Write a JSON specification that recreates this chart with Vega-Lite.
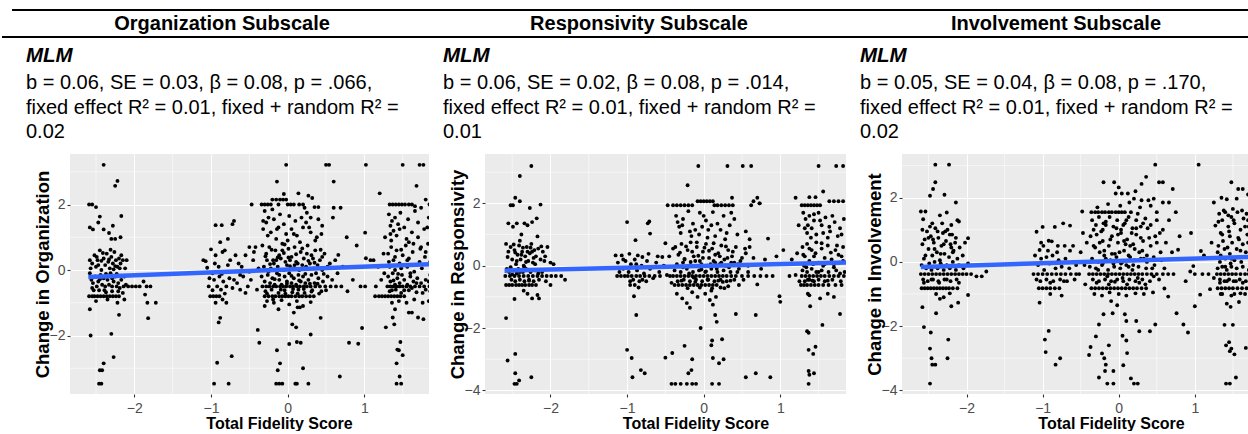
{
  "$schema": "https://vega.github.io/schema/vega-lite/v6.json",
  "padding": {"top": 9, "left": 0, "right": 0, "bottom": 0},
  "spacing": 0,
  "config": {
    "font": "Liberation Sans",
    "view": {"stroke": null},
    "axis": {"domain": false, "grid": true, "gridColor": "#FFFFFF", "gridWidth": 1.1, "tickColor": "#333333", "tickSize": 3, "tickWidth": 1.1, "labelColor": "#4D4D4D", "labelFontSize": 14, "labelPadding": 2, "titleFontWeight": "bold", "titleColor": "#000000", "labelFlush": false, "labelOverlap": false, "format": "d"},
    "axisX": {"titleFontSize": 16, "titlePadding": 0, "labelPadding": 4},
    "axisY": {"titleFontSize": 18.5, "titlePadding": -3.5}
  },
  "datasets": {
    "heads": [{"panel": "Organization Subscale"}, {"panel": "Responsivity Subscale"}, {"panel": "Involvement Subscale"}],
    "stats": [
      {"panel": "Organization Subscale", "line": 0, "txt": "MLM"},
      {"panel": "Organization Subscale", "line": 1, "txt": "b = 0.06, SE = 0.03, β = 0.08, p = .066,"},
      {"panel": "Organization Subscale", "line": 2, "txt": "fixed effect R² = 0.01, fixed + random R² ="},
      {"panel": "Organization Subscale", "line": 3, "txt": "0.02"},
      {"panel": "Responsivity Subscale", "line": 0, "txt": "MLM"},
      {"panel": "Responsivity Subscale", "line": 1, "txt": "b = 0.06, SE = 0.02, β = 0.08, p = .014,"},
      {"panel": "Responsivity Subscale", "line": 2, "txt": "fixed effect R² = 0.01, fixed + random R² ="},
      {"panel": "Responsivity Subscale", "line": 3, "txt": "0.01"},
      {"panel": "Involvement Subscale", "line": 0, "txt": "MLM"},
      {"panel": "Involvement Subscale", "line": 1, "txt": "b = 0.05, SE = 0.04, β = 0.08, p = .170,"},
      {"panel": "Involvement Subscale", "line": 2, "txt": "fixed effect R² = 0.01, fixed + random R² ="},
      {"panel": "Involvement Subscale", "line": 3, "txt": "0.02"}
    ],
    "minorx": [{"v": -2.5}, {"v": -1.5}, {"v": -0.5}, {"v": 0.5}, {"v": 1.5}],
    "minory": [{"v": 3}, {"v": 1}, {"v": -1}, {"v": -3}],
    "orgfit": [{"x": -2.6, "y": -0.21}, {"x": 2.6, "y": 0.24}],
    "respfit": [{"x": -2.6, "y": -0.16}, {"x": 2.6, "y": 0.15}],
    "invfit": [{"x": -2.6, "y": -0.16}, {"x": 2.6, "y": 0.22}],
    "org": [
{"x":-2.40,"y":3.21},{"x":-2.22,"y":2.72},{"x":-2.25,"y":2.57},{"x":-2.59,"y":2.0},{"x":-2.55,"y":2.0},{"x":-2.50,"y":1.92},{"x":-2.45,"y":1.63},{"x":-2.17,"y":1.65},{"x":-2.58,"y":1.3},{"x":-2.54,"y":1.24},{"x":-2.47,"y":1.45},{"x":-2.40,"y":1.24},{"x":-2.28,"y":1.35},{"x":-2.33,"y":1.13},{"x":-2.30,"y":0.95},{"x":-2.18,"y":1.0},{"x":-2.25,"y":0.95},
{"x":-2.58,"y":0.3},{"x":-2.55,"y":0.2},{"x":-2.52,"y":0.45},{"x":-2.50,"y":0.1},{"x":-2.48,"y":0.3},{"x":-2.45,"y":0.6},{"x":-2.43,"y":0.0},{"x":-2.40,"y":0.35},{"x":-2.38,"y":0.15},{"x":-2.36,"y":0.5},{"x":-2.34,"y":0.25},{"x":-2.32,"y":0.05},{"x":-2.30,"y":0.4},{"x":-2.28,"y":0.2},{"x":-2.26,"y":0.55},{"x":-2.24,"y":0.3},{"x":-2.22,"y":0.1},{"x":-2.20,"y":0.35},{"x":-2.18,"y":0.2},{"x":-2.15,"y":0.3},{"x":-2.12,"y":0.05},{"x":-2.10,"y":0.3},
{"x":-2.58,"y":-0.1},{"x":-2.56,"y":-0.3},{"x":-2.54,"y":-0.4},{"x":-2.51,"y":-0.2},{"x":-2.49,"y":-0.5},{"x":-2.47,"y":-0.35},{"x":-2.44,"y":-0.15},{"x":-2.42,"y":-0.45},{"x":-2.40,"y":-0.25},{"x":-2.38,"y":-0.5},{"x":-2.35,"y":-0.3},{"x":-2.33,"y":-0.45},{"x":-2.31,"y":-0.1},{"x":-2.29,"y":-0.5},{"x":-2.27,"y":-0.35},{"x":-2.25,"y":-0.2},{"x":-2.23,"y":-0.5},{"x":-2.21,"y":-0.4},{"x":-2.19,"y":-0.55},{"x":-2.17,"y":-0.3},{"x":-2.14,"y":-0.5},{"x":-2.11,"y":-0.45},{"x":-2.08,"y":-0.5},{"x":-2.03,"y":-0.5},{"x":-1.98,"y":-0.5},{"x":-1.93,"y":-0.5},{"x":-1.88,"y":-0.35},{"x":-1.84,"y":-0.5},{"x":-1.79,"y":-0.5},
{"x":-2.59,"y":-0.8},{"x":-2.55,"y":-0.8},{"x":-2.52,"y":-0.8},{"x":-2.48,"y":-0.8},{"x":-2.44,"y":-0.8},{"x":-2.40,"y":-0.8},{"x":-2.36,"y":-0.8},{"x":-2.32,"y":-0.8},{"x":-2.28,"y":-0.8},{"x":-2.24,"y":-0.8},{"x":-2.20,"y":-0.8},{"x":-2.46,"y":-0.62},{"x":-2.37,"y":-0.68},{"x":-2.29,"y":-0.65},{"x":-2.15,"y":-0.7},{"x":-2.50,"y":-0.95},{"x":-2.35,"y":-0.9},{"x":-2.22,"y":-1.0},{"x":-2.13,"y":-0.9},
{"x":-2.58,"y":-1.2},{"x":-2.57,"y":-2.0},{"x":-2.30,"y":-1.95},{"x":-2.27,"y":-2.66},{"x":-2.20,"y":-1.37},{"x":-2.40,"y":-2.85},{"x":-2.42,"y":-3.06},{"x":-2.45,"y":-3.06},{"x":-2.46,"y":-3.47},{"x":-2.43,"y":-3.47},{"x":-1.83,"y":-1.0},{"x":-1.72,"y":-1.0},{"x":-1.82,"y":-1.47},{"x":-1.86,"y":-0.75},
{"x":-1.00,"y":0.63},{"x":-0.94,"y":1.37},{"x":-0.86,"y":1.37},{"x":-0.70,"y":1.5},{"x":-0.72,"y":1.4},{"x":-1.07,"y":0.27},{"x":-1.05,"y":0.07},{"x":-0.85,"y":0.55},{"x":-0.82,"y":0.6},{"x":-0.78,"y":0.95},{"x":-0.88,"y":0.85},{"x":-0.95,"y":0.2},{"x":-0.90,"y":0.1},{"x":-0.75,"y":0.3},{"x":-0.68,"y":0.45},{"x":-1.10,"y":0.3},{"x":-0.98,"y":-0.1},{"x":-0.96,"y":-0.3},{"x":-0.92,"y":-0.5},{"x":-0.89,"y":-0.2},{"x":-0.87,"y":-0.6},{"x":-0.84,"y":-0.35},{"x":-0.80,"y":-0.5},{"x":-0.76,"y":-0.25},{"x":-0.72,"y":-0.55},{"x":-0.66,"y":-0.4},{"x":-0.62,"y":-0.6},{"x":-1.03,"y":-0.5},{"x":-1.01,"y":-0.8},{"x":-0.97,"y":-0.8},{"x":-0.93,"y":-0.8},{"x":-0.89,"y":-0.8},{"x":-0.85,"y":-0.9},{"x":-0.88,"y":-1.46},{"x":-0.90,"y":-1.6},{"x":-0.92,"y":-2.83},{"x":-0.96,"y":-3.47},{"x":-0.77,"y":-3.47},{"x":-0.73,"y":-2.63},{"x":-0.80,"y":-1.0},{"x":-0.94,"y":-1.0},{"x":-0.62,"y":-0.15},
{"x":-0.47,"y":2.0},{"x":-0.55,"y":0.45},{"x":-0.50,"y":0.7},{"x":-0.45,"y":0.3},{"x":-0.42,"y":0.7},{"x":-0.58,"y":-0.2},{"x":-0.52,"y":-0.5},{"x":-0.48,"y":-0.3},{"x":-0.40,"y":-0.6},{"x":-0.55,"y":-0.7},{"x":-0.60,"y":0.1},{"x":-0.44,"y":0.55},{"x":-0.38,"y":0.05},{"x":-0.37,"y":-2.22},{"x":-0.39,"y":-1.83},{"x":-0.50,"y":-0.05},
{"x":-0.02,"y":3.21},{"x":0.50,"y":3.21},{"x":0.54,"y":3.21},{"x":-0.14,"y":2.7},{"x":0.60,"y":2.7},{"x":0.14,"y":2.34},{"x":-0.05,"y":2.32},{"x":0.27,"y":2.27},{"x":0.32,"y":2.2},
{"x":-0.20,"y":2.15},{"x":-0.15,"y":2.15},{"x":-0.10,"y":2.15},{"x":-0.06,"y":2.15},{"x":-0.02,"y":2.15},
{"x":-0.34,"y":2.0},{"x":-0.30,"y":2.0},{"x":-0.26,"y":2.0},{"x":-0.22,"y":2.0},{"x":-0.12,"y":2.0},{"x":0.0,"y":2.0},{"x":0.04,"y":2.0},{"x":0.08,"y":2.0},{"x":0.15,"y":2.0},{"x":0.20,"y":2.0},{"x":0.35,"y":1.92},{"x":0.40,"y":1.92},
{"x":-0.30,"y":1.8},{"x":-0.25,"y":1.6},{"x":-0.28,"y":1.45},{"x":-0.18,"y":1.55},{"x":-0.10,"y":1.7},{"x":0.02,"y":1.65},{"x":0.10,"y":1.5},{"x":0.18,"y":1.6},{"x":0.25,"y":1.75},{"x":0.40,"y":1.55},{"x":0.45,"y":1.35},{"x":-0.32,"y":1.25},{"x":-0.22,"y":1.15},{"x":-0.12,"y":1.3},{"x":-0.05,"y":1.4},{"x":0.05,"y":1.25},{"x":0.12,"y":1.05},{"x":0.20,"y":1.3},{"x":0.30,"y":1.15},{"x":0.38,"y":1.0},{"x":-0.15,"y":0.95},{"x":0.00,"y":0.9},{"x":0.60,"y":1.9},{"x":0.59,"y":1.6},{"x":0.24,"y":1.45},{"x":-0.02,"y":1.1},
{"x":-0.33,"y":0.75},{"x":-0.28,"y":0.5},{"x":-0.24,"y":0.7},{"x":-0.19,"y":0.3},{"x":-0.16,"y":0.6},{"x":-0.11,"y":0.45},{"x":-0.07,"y":0.8},{"x":-0.03,"y":0.25},{"x":0.01,"y":0.65},{"x":0.05,"y":0.4},{"x":0.09,"y":0.7},{"x":0.13,"y":0.2},{"x":0.17,"y":0.55},{"x":0.21,"y":0.35},{"x":0.26,"y":0.75},{"x":0.31,"y":0.45},{"x":0.36,"y":0.6},{"x":0.42,"y":0.3},{"x":0.48,"y":0.5},{"x":0.55,"y":0.2},
{"x":-0.31,"y":0.1},{"x":-0.27,"y":0.3},{"x":-0.22,"y":0.05},{"x":-0.18,"y":0.2},{"x":-0.13,"y":0.1},{"x":-0.09,"y":0.35},{"x":-0.05,"y":0.0},{"x":-0.01,"y":0.15},{"x":0.03,"y":0.3},{"x":0.07,"y":0.05},{"x":0.11,"y":0.25},{"x":0.15,"y":0.0},{"x":0.19,"y":0.15},{"x":0.24,"y":0.1},{"x":0.29,"y":0.2},{"x":0.34,"y":0.05},{"x":0.39,"y":0.15},{"x":0.45,"y":0.0},{"x":0.52,"y":0.1},{"x":0.62,"y":0.3},
{"x":-0.34,"y":-0.2},{"x":-0.30,"y":-0.35},{"x":-0.26,"y":-0.15},{"x":-0.23,"y":-0.4},{"x":-0.20,"y":-0.25},{"x":-0.17,"y":-0.45},{"x":-0.14,"y":-0.1},{"x":-0.11,"y":-0.3},{"x":-0.08,"y":-0.45},{"x":-0.04,"y":-0.2},{"x":-0.01,"y":-0.35},{"x":0.02,"y":-0.1},{"x":0.05,"y":-0.4},{"x":0.08,"y":-0.25},{"x":0.11,"y":-0.45},{"x":0.14,"y":-0.15},{"x":0.17,"y":-0.35},{"x":0.20,"y":-0.2},{"x":0.23,"y":-0.4},{"x":0.27,"y":-0.3},{"x":0.31,"y":-0.15},{"x":0.35,"y":-0.4},{"x":0.40,"y":-0.25},{"x":0.46,"y":-0.35},{"x":0.52,"y":-0.2},{"x":0.58,"y":-0.3},
{"x":-0.33,"y":-0.5},{"x":-0.28,"y":-0.5},{"x":-0.24,"y":-0.5},{"x":-0.19,"y":-0.5},{"x":-0.15,"y":-0.5},{"x":-0.10,"y":-0.5},{"x":-0.06,"y":-0.5},{"x":-0.02,"y":-0.5},{"x":0.03,"y":-0.5},{"x":0.07,"y":-0.5},{"x":0.12,"y":-0.5},{"x":0.16,"y":-0.5},{"x":0.21,"y":-0.5},{"x":0.25,"y":-0.5},{"x":0.30,"y":-0.5},{"x":0.36,"y":-0.5},{"x":0.42,"y":-0.5},{"x":0.49,"y":-0.5},{"x":0.56,"y":-0.5},{"x":0.63,"y":-0.5},{"x":0.70,"y":-0.5},
{"x":-0.29,"y":-0.65},{"x":-0.21,"y":-0.6},{"x":-0.12,"y":-0.7},{"x":-0.04,"y":-0.62},{"x":0.06,"y":-0.68},{"x":0.14,"y":-0.6},{"x":0.22,"y":-0.7},{"x":0.32,"y":-0.62},{"x":0.44,"y":-0.65},
{"x":-0.30,"y":-0.8},{"x":-0.25,"y":-0.8},{"x":-0.20,"y":-0.8},{"x":-0.16,"y":-0.8},{"x":-0.11,"y":-0.8},{"x":-0.07,"y":-0.8},{"x":-0.03,"y":-0.8},{"x":0.01,"y":-0.8},{"x":0.05,"y":-0.8},{"x":0.10,"y":-0.8},{"x":0.15,"y":-0.8},{"x":0.19,"y":-0.8},{"x":0.24,"y":-0.8},{"x":0.29,"y":-0.8},{"x":0.34,"y":-0.8},
{"x":-0.27,"y":-0.95},{"x":-0.18,"y":-1.0},{"x":-0.08,"y":-0.92},{"x":0.02,"y":-1.05},{"x":0.12,"y":-0.95},{"x":0.20,"y":-1.1},{"x":0.30,"y":-0.98},{"x":-0.12,"y":-1.2},{"x":0.08,"y":-1.3},{"x":0.16,"y":-1.14},{"x":-0.30,"y":-1.1},
{"x":-0.15,"y":-3.47},{"x":-0.11,"y":-3.47},{"x":-0.07,"y":-3.47},{"x":0.10,"y":-3.47},{"x":0.12,"y":-3.47},{"x":0.27,"y":-3.47},{"x":-0.13,"y":-3.06},{"x":-0.10,"y":-2.85},{"x":0.02,"y":-2.26},{"x":0.12,"y":-2.2},{"x":0.17,"y":-2.22},{"x":0.20,"y":-3.0},{"x":0.30,"y":-1.97},{"x":0.43,"y":-1.46},{"x":0.06,"y":-1.66},{"x":0.11,"y":-1.75},{"x":-0.14,"y":-2.45},{"x":0.68,"y":-3.25},{"x":0.13,"y":-1.14},
{"x":0.69,"y":1.9},{"x":0.77,"y":1.0},{"x":0.66,"y":0.46},{"x":0.95,"y":-0.5},{"x":1.01,"y":-0.5},{"x":0.80,"y":-2.22},{"x":0.97,"y":-1.77},{"x":1.01,"y":1.14},{"x":1.02,"y":0.36},{"x":1.02,"y":3.21},{"x":0.72,"y":0.1},{"x":0.85,"y":-0.3},{"x":0.90,"y":0.75},{"x":0.78,"y":-0.65},{"x":0.65,"y":-0.1},{"x":1.08,"y":0.3},{"x":0.92,"y":-2.25},
{"x":1.50,"y":3.21},{"x":1.72,"y":3.21},{"x":1.77,"y":3.21},{"x":1.68,"y":2.57},{"x":1.20,"y":2.34},{"x":1.80,"y":2.15},
{"x":1.33,"y":2.0},{"x":1.37,"y":2.0},{"x":1.41,"y":2.0},{"x":1.45,"y":2.0},{"x":1.49,"y":2.0},{"x":1.53,"y":2.0},{"x":1.58,"y":2.0},{"x":1.62,"y":2.0},{"x":1.66,"y":1.95},{"x":1.74,"y":1.9},{"x":1.85,"y":2.0},
{"x":1.32,"y":1.7},{"x":1.36,"y":1.5},{"x":1.34,"y":1.35},{"x":1.40,"y":1.6},{"x":1.44,"y":1.4},{"x":1.38,"y":1.2},{"x":1.47,"y":1.75},{"x":1.52,"y":1.3},{"x":1.57,"y":1.55},{"x":1.62,"y":1.15},{"x":1.70,"y":1.45},{"x":1.78,"y":1.25},{"x":1.84,"y":1.6},{"x":1.42,"y":1.05},{"x":1.55,"y":0.95},{"x":1.66,"y":1.8},{"x":1.35,"y":0.9},
{"x":1.31,"y":0.5},{"x":1.35,"y":0.7},{"x":1.38,"y":0.3},{"x":1.42,"y":0.6},{"x":1.46,"y":0.2},{"x":1.50,"y":0.45},{"x":1.54,"y":0.75},{"x":1.58,"y":0.35},{"x":1.63,"y":0.55},{"x":1.68,"y":0.15},{"x":1.73,"y":0.65},{"x":1.79,"y":0.4},{"x":1.86,"y":0.25},{"x":1.33,"y":0.1},{"x":1.40,"y":0.0},{"x":1.48,"y":0.05},{"x":1.56,"y":0.1},{"x":1.65,"y":-0.05},{"x":1.75,"y":0.05},{"x":1.83,"y":0.8},
{"x":1.31,"y":-0.2},{"x":1.34,"y":-0.35},{"x":1.37,"y":-0.1},{"x":1.40,"y":-0.45},{"x":1.43,"y":-0.25},{"x":1.46,"y":-0.4},{"x":1.49,"y":-0.15},{"x":1.52,"y":-0.3},{"x":1.56,"y":-0.45},{"x":1.60,"y":-0.2},{"x":1.64,"y":-0.35},{"x":1.69,"y":-0.25},{"x":1.74,"y":-0.4},{"x":1.80,"y":-0.3},{"x":1.86,"y":-0.15},
{"x":1.30,"y":-0.5},{"x":1.34,"y":-0.5},{"x":1.38,"y":-0.5},{"x":1.42,"y":-0.5},{"x":1.46,"y":-0.5},{"x":1.50,"y":-0.5},{"x":1.55,"y":-0.5},{"x":1.60,"y":-0.5},{"x":1.66,"y":-0.5},{"x":1.72,"y":-0.5},{"x":1.78,"y":-0.5},{"x":1.85,"y":-0.5},
{"x":1.33,"y":-0.65},{"x":1.41,"y":-0.6},{"x":1.48,"y":-0.7},{"x":1.58,"y":-0.62},{"x":1.68,"y":-0.68},{"x":1.80,"y":-0.6},
{"x":1.19,"y":-0.8},{"x":1.23,"y":-0.8},{"x":1.27,"y":-0.8},{"x":1.31,"y":-0.8},{"x":1.35,"y":-0.8},{"x":1.39,"y":-0.8},{"x":1.43,"y":-0.8},{"x":1.47,"y":-0.8},{"x":1.52,"y":-0.8},
{"x":1.36,"y":-1.0},{"x":1.45,"y":-0.95},{"x":1.55,"y":-1.0},{"x":1.65,"y":-0.9},{"x":1.76,"y":-1.0},{"x":1.84,"y":-0.95},{"x":1.40,"y":-1.2},{"x":1.62,"y":-1.3},
{"x":1.37,"y":-1.45},{"x":1.39,"y":-1.66},{"x":1.47,"y":-2.2},{"x":1.43,"y":-2.43},{"x":1.45,"y":-2.45},{"x":1.50,"y":-2.6},{"x":1.42,"y":-2.85},{"x":1.42,"y":-3.47},{"x":1.48,"y":-3.47},{"x":1.46,"y":-3.25},{"x":1.77,"y":-1.5},{"x":1.58,"y":-1.3},{"x":1.70,"y":-1.45},{"x":1.28,"y":-1.75},
{"x":1.12,"y":0.3},{"x":1.15,"y":-0.5},{"x":1.18,"y":0.1},{"x":1.22,"y":-0.3},{"x":1.25,"y":0.5},{"x":1.14,"y":-0.8},{"x":1.27,"y":1.0},{"x":1.26,"y":-0.1},
{"x":-0.29,"y":0.42},{"x":-0.25,"y":-0.05},{"x":-0.21,"y":0.62},{"x":-0.17,"y":-0.28},{"x":-0.13,"y":0.38},{"x":-0.09,"y":-0.6},{"x":-0.05,"y":0.52},{"x":-0.01,"y":-0.42},{"x":0.03,"y":0.12},{"x":0.07,"y":-0.58},{"x":0.11,"y":0.48},{"x":0.15,"y":-0.32},{"x":0.19,"y":0.66},{"x":0.23,"y":-0.12},{"x":0.27,"y":0.28},{"x":0.31,"y":-0.66},{"x":0.35,"y":0.22},{"x":0.39,"y":-0.42},{"x":0.43,"y":0.62},{"x":0.47,"y":-0.12},
{"x":-0.27,"y":-0.72},{"x":-0.23,"y":0.18},{"x":-0.19,"y":-0.9},{"x":-0.15,"y":0.3},{"x":-0.11,"y":-0.15},{"x":-0.07,"y":0.6},{"x":-0.03,"y":-0.72},{"x":0.01,"y":0.38},{"x":0.05,"y":-0.18},{"x":0.09,"y":0.15},{"x":0.13,"y":-0.72},{"x":0.17,"y":0.02},{"x":0.21,"y":-0.58},{"x":0.25,"y":0.5},{"x":0.29,"y":-0.42},{"x":0.33,"y":0.35},{"x":0.37,"y":-0.1},{"x":0.41,"y":-0.72},{"x":0.45,"y":0.4},{"x":0.50,"y":-0.62},
{"x":-0.26,"y":1.05},{"x":-0.14,"y":1.25},{"x":-0.04,"y":0.78},{"x":0.08,"y":1.1},{"x":0.16,"y":0.85},{"x":0.28,"y":1.3},{"x":0.36,"y":0.9},{"x":0.44,"y":1.1},{"x":-0.32,"y":1.5},{"x":0.22,"y":1.9},{"x":0.30,"y":1.6},{"x":-0.20,"y":1.85},
{"x":-2.57,"y":0.05},{"x":-2.53,"y":-0.62},{"x":-2.49,"y":0.4},{"x":-2.45,"y":-0.28},{"x":-2.41,"y":0.52},{"x":-2.37,"y":-0.12},{"x":-2.33,"y":0.32},{"x":-2.29,"y":-0.25},{"x":-2.25,"y":0.12},{"x":-2.21,"y":-0.65},{"x":-2.17,"y":0.45},{"x":-2.13,"y":-0.2},{"x":-2.39,"y":-0.62},{"x":-2.31,"y":0.62},{"x":-2.27,"y":0.02},{"x":-2.47,"y":0.15},{"x":-2.55,"y":-0.55},{"x":-2.43,"y":0.28},{"x":-2.23,"y":-0.12},{"x":-2.19,"y":0.05},
{"x":1.32,"y":0.25},{"x":1.36,"y":-0.62},{"x":1.40,"y":0.4},{"x":1.44,"y":-0.12},{"x":1.48,"y":0.62},{"x":1.52,"y":-0.62},{"x":1.56,"y":0.3},{"x":1.60,"y":-0.1},{"x":1.64,"y":0.8},{"x":1.68,"y":-0.4},{"x":1.72,"y":0.25},{"x":1.76,"y":-0.7},{"x":1.80,"y":0.55},{"x":1.84,"y":-0.35},{"x":1.34,"y":1.1},{"x":1.46,"y":1.25},{"x":1.58,"y":0.85},{"x":1.70,"y":1.0},{"x":1.82,"y":1.3},{"x":1.38,"y":-0.32},{"x":1.50,"y":0.15},{"x":1.62,"y":-0.55},{"x":1.74,"y":0.7},{"x":1.86,"y":-0.65},
{"x":-1.02,"y":-0.25},{"x":-0.94,"y":0.45},{"x":-0.86,"y":-0.12},{"x":-0.78,"y":0.15},{"x":-0.70,"y":-0.3},{"x":-0.64,"y":0.2},{"x":-0.98,"y":-0.62},{"x":-0.82,"y":-0.72}
    ],
    "resp": [
{"x":-2.25,"y":3.2},{"x":-2.40,"y":2.88},{"x":-2.46,"y":2.18},{"x":-2.40,"y":2.07},{"x":-2.52,"y":1.94},{"x":-2.49,"y":1.94},{"x":-2.27,"y":1.85},{"x":-2.13,"y":1.96},{"x":-2.18,"y":1.52},{"x":-2.24,"y":1.4},{"x":-2.34,"y":1.36},{"x":-2.49,"y":1.25},{"x":-2.44,"y":1.36},{"x":-2.55,"y":1.36},{"x":-2.40,"y":0.8},{"x":-2.17,"y":0.94},{"x":-2.30,"y":1.3},{"x":-2.38,"y":1.0},
{"x":-2.58,"y":0.7},{"x":-2.55,"y":0.45},{"x":-2.52,"y":0.6},{"x":-2.50,"y":0.2},{"x":-2.47,"y":0.5},{"x":-2.45,"y":0.05},{"x":-2.43,"y":0.35},{"x":-2.41,"y":0.65},{"x":-2.39,"y":0.2},{"x":-2.37,"y":0.45},{"x":-2.35,"y":0.0},{"x":-2.33,"y":0.3},{"x":-2.31,"y":0.6},{"x":-2.29,"y":0.15},{"x":-2.27,"y":0.4},{"x":-2.25,"y":0.7},{"x":-2.23,"y":0.1},{"x":-2.21,"y":0.5},{"x":-2.19,"y":0.3},{"x":-2.16,"y":0.55},{"x":-2.13,"y":0.2},{"x":-2.10,"y":0.45},{"x":-2.07,"y":0.3},{"x":-2.04,"y":0.6},{"x":-2.00,"y":0.1},{"x":-1.96,"y":0.05},
{"x":-2.57,"y":-0.1},{"x":-2.54,"y":-0.2},{"x":-2.51,"y":-0.45},{"x":-2.48,"y":-0.15},{"x":-2.46,"y":-0.5},{"x":-2.44,"y":-0.25},{"x":-2.42,"y":-0.1},{"x":-2.40,"y":-0.45},{"x":-2.36,"y":-0.2},{"x":-2.34,"y":-0.5},{"x":-2.32,"y":-0.1},{"x":-2.28,"y":-0.45},{"x":-2.26,"y":-0.2},{"x":-2.22,"y":-0.5},{"x":-2.20,"y":-0.15},{"x":-2.15,"y":-0.45},{"x":-2.11,"y":-0.2},{"x":-2.06,"y":-0.5},
{"x":-2.59,"y":-0.33},{"x":-2.53,"y":-0.33},{"x":-2.47,"y":-0.33},{"x":-2.41,"y":-0.33},{"x":-2.35,"y":-0.33},{"x":-2.29,"y":-0.33},{"x":-2.23,"y":-0.33},{"x":-2.17,"y":-0.33},{"x":-2.11,"y":-0.33},{"x":-2.05,"y":-0.33},{"x":-1.99,"y":-0.33},{"x":-1.93,"y":-0.33},{"x":-1.86,"y":-0.33},{"x":-1.81,"y":-0.45},
{"x":-2.58,"y":-0.62},{"x":-2.54,"y":-0.62},{"x":-2.50,"y":-0.62},{"x":-2.45,"y":-0.62},{"x":-2.41,"y":-0.62},{"x":-2.37,"y":-0.62},{"x":-2.33,"y":-0.62},{"x":-2.28,"y":-0.62},{"x":-2.24,"y":-0.62},{"x":-2.19,"y":-0.62},{"x":-2.00,"y":-0.62},
{"x":-2.58,"y":-1.68},{"x":-2.56,"y":-3.04},{"x":-2.46,"y":-2.83},{"x":-2.46,"y":-3.45},{"x":-2.44,"y":-3.79},{"x":-2.47,"y":-3.79},{"x":-2.41,"y":-3.68},{"x":-2.25,"y":-3.58},{"x":-2.17,"y":-0.94},{"x":-2.15,"y":-1.05},{"x":-2.24,"y":-1.05},{"x":-2.47,"y":-1.07},{"x":-2.35,"y":-0.8},{"x":-2.30,"y":-0.9},
{"x":-1.00,"y":1.4},{"x":-0.73,"y":1.36},{"x":-0.71,"y":1.42},{"x":-0.70,"y":1.03},{"x":-0.89,"y":0.82},{"x":-1.15,"y":0.33},{"x":-1.07,"y":0.33},{"x":-0.97,"y":0.38},{"x":-0.86,"y":0.33},{"x":-0.80,"y":0.28},{"x":-0.72,"y":0.38},{"x":-0.54,"y":0.28},
{"x":-1.12,"y":0.1},{"x":-1.05,"y":-0.1},{"x":-1.02,"y":0.15},{"x":-0.98,"y":-0.2},{"x":-0.95,"y":0.05},{"x":-0.92,"y":-0.45},{"x":-0.90,"y":0.2},{"x":-0.87,"y":-0.15},{"x":-0.84,"y":-0.5},{"x":-0.81,"y":0.0},{"x":-0.78,"y":-0.25},{"x":-0.75,"y":-0.5},{"x":-0.70,"y":-0.1},{"x":-0.66,"y":-0.4},{"x":-0.62,"y":0.1},{"x":-0.58,"y":-0.2},
{"x":-1.13,"y":-0.33},{"x":-1.08,"y":-0.33},{"x":-1.03,"y":-0.33},{"x":-0.99,"y":-0.33},{"x":-0.94,"y":-0.33},{"x":-0.88,"y":-0.33},{"x":-0.83,"y":-0.33},{"x":-0.77,"y":-0.33},{"x":-0.71,"y":-0.33},{"x":-0.64,"y":-0.33},{"x":-0.57,"y":-0.33},
{"x":-0.96,"y":-0.62},{"x":-0.90,"y":-0.62},{"x":-0.85,"y":-0.7},
{"x":-0.91,"y":-0.98},{"x":-0.88,"y":-1.58},{"x":-1.00,"y":-2.7},{"x":-0.94,"y":-2.96},{"x":-0.93,"y":-3.58},{"x":-0.82,"y":-3.35},{"x":-0.77,"y":-3.45},
{"x":-0.47,"y":1.94},{"x":-0.50,"y":0.72},{"x":-0.48,"y":-0.3},{"x":-0.45,"y":0.3},{"x":-0.42,"y":-0.55},{"x":-0.52,"y":0.0},{"x":-0.40,"y":0.55},{"x":-0.44,"y":-0.33},
{"x":-0.07,"y":3.2},{"x":0.31,"y":3.2},{"x":0.51,"y":3.2},{"x":0.62,"y":3.2},{"x":-0.21,"y":2.58},{"x":0.37,"y":2.18},{"x":0.62,"y":1.94},{"x":0.65,"y":2.07},{"x":0.70,"y":2.18},{"x":0.73,"y":2.0},
{"x":-0.08,"y":2.07},{"x":-0.04,"y":2.07},{"x":0.0,"y":2.07},{"x":0.04,"y":2.07},{"x":0.08,"y":2.07},{"x":0.12,"y":2.07},
{"x":-0.40,"y":1.94},{"x":-0.35,"y":1.94},{"x":-0.30,"y":1.94},{"x":-0.25,"y":1.94},{"x":-0.20,"y":1.94},{"x":-0.15,"y":1.94},{"x":0.14,"y":1.94},{"x":0.18,"y":1.94},{"x":0.23,"y":1.94},{"x":0.28,"y":1.94},{"x":0.33,"y":1.94},{"x":0.38,"y":1.94},
{"x":-0.36,"y":1.6},{"x":-0.34,"y":1.4},{"x":-0.28,"y":1.3},{"x":-0.20,"y":1.75},{"x":-0.14,"y":1.35},{"x":-0.05,"y":1.7},{"x":0.03,"y":1.45},{"x":0.10,"y":1.3},{"x":0.18,"y":1.35},{"x":0.26,"y":1.6},{"x":0.34,"y":1.3},{"x":0.40,"y":1.5},{"x":-0.30,"y":1.05},{"x":-0.18,"y":1.1},{"x":-0.06,"y":1.0},{"x":0.06,"y":1.15},{"x":0.15,"y":0.95},{"x":0.30,"y":1.05},{"x":0.44,"y":1.0},{"x":0.55,"y":1.1},{"x":0.60,"y":0.85},{"x":-0.02,"y":1.25},
{"x":-0.37,"y":0.6},{"x":-0.33,"y":0.35},{"x":-0.29,"y":0.7},{"x":-0.25,"y":0.2},{"x":-0.21,"y":0.5},{"x":-0.17,"y":0.75},{"x":-0.13,"y":0.3},{"x":-0.09,"y":0.6},{"x":-0.05,"y":0.15},{"x":-0.01,"y":0.45},{"x":0.03,"y":0.7},{"x":0.07,"y":0.25},{"x":0.11,"y":0.55},{"x":0.15,"y":0.1},{"x":0.19,"y":0.4},{"x":0.23,"y":0.65},{"x":0.27,"y":0.2},{"x":0.32,"y":0.5},{"x":0.37,"y":0.3},{"x":0.42,"y":0.6},{"x":0.48,"y":0.15},{"x":0.55,"y":0.4},
{"x":-0.35,"y":0.05},{"x":-0.27,"y":0.1},{"x":-0.19,"y":0.0},{"x":-0.11,"y":0.15},{"x":-0.03,"y":0.05},{"x":0.05,"y":0.0},{"x":0.13,"y":0.15},{"x":0.21,"y":0.05},{"x":0.29,"y":0.0},{"x":0.36,"y":0.1},{"x":0.45,"y":0.05},{"x":0.58,"y":0.0},{"x":0.65,"y":0.25},
{"x":-0.38,"y":-0.15},{"x":-0.34,"y":-0.5},{"x":-0.30,"y":-0.2},{"x":-0.26,"y":-0.45},{"x":-0.22,"y":-0.1},{"x":-0.18,"y":-0.5},{"x":-0.14,"y":-0.2},{"x":-0.10,"y":-0.45},{"x":-0.06,"y":-0.15},{"x":-0.02,"y":-0.5},{"x":0.02,"y":-0.2},{"x":0.06,"y":-0.45},{"x":0.10,"y":-0.1},{"x":0.14,"y":-0.5},{"x":0.18,"y":-0.2},{"x":0.22,"y":-0.45},{"x":0.26,"y":-0.15},{"x":0.30,"y":-0.5},{"x":0.35,"y":-0.2},{"x":0.40,"y":-0.45},{"x":0.46,"y":-0.1},{"x":0.52,"y":-0.45},{"x":0.58,"y":-0.2},
{"x":-0.40,"y":-0.33},{"x":-0.35,"y":-0.33},{"x":-0.30,"y":-0.33},{"x":-0.25,"y":-0.33},{"x":-0.20,"y":-0.33},{"x":-0.15,"y":-0.33},{"x":-0.10,"y":-0.33},{"x":-0.05,"y":-0.33},{"x":0.0,"y":-0.33},{"x":0.05,"y":-0.33},{"x":0.10,"y":-0.33},{"x":0.15,"y":-0.33},{"x":0.20,"y":-0.33},{"x":0.25,"y":-0.33},{"x":0.30,"y":-0.33},{"x":0.36,"y":-0.33},{"x":0.42,"y":-0.33},{"x":0.50,"y":-0.33},{"x":0.58,"y":-0.33},{"x":0.66,"y":-0.33},{"x":0.74,"y":-0.33},{"x":0.82,"y":-0.33},{"x":0.90,"y":-0.33},
{"x":-0.38,"y":-0.62},{"x":-0.33,"y":-0.62},{"x":-0.28,"y":-0.62},{"x":-0.23,"y":-0.62},{"x":-0.18,"y":-0.62},{"x":-0.13,"y":-0.62},{"x":-0.08,"y":-0.62},{"x":-0.03,"y":-0.62},{"x":0.02,"y":-0.62},{"x":0.07,"y":-0.62},{"x":0.12,"y":-0.62},{"x":0.17,"y":-0.62},{"x":0.22,"y":-0.7},{"x":0.32,"y":-0.66},
{"x":-0.35,"y":-0.9},{"x":-0.28,"y":-1.05},{"x":-0.22,"y":-1.2},{"x":-0.15,"y":-0.85},{"x":-0.08,"y":-1.0},{"x":0.02,"y":-0.9},{"x":0.08,"y":-1.1},{"x":0.12,"y":-1.25},{"x":0.16,"y":-1.0},{"x":-0.18,"y":-1.35},{"x":0.10,"y":-0.8},
{"x":-0.42,"y":-3.79},{"x":-0.37,"y":-3.79},{"x":-0.30,"y":-3.79},{"x":-0.22,"y":-3.79},{"x":-0.15,"y":-3.79},{"x":-0.10,"y":-3.79},{"x":0.11,"y":-3.79},{"x":0.20,"y":-3.79},{"x":-0.20,"y":-3.45},{"x":-0.16,"y":-3.35},{"x":-0.15,"y":-3.0},{"x":-0.25,"y":-2.57},{"x":-0.50,"y":-2.95},{"x":-0.41,"y":-2.8},{"x":-0.04,"y":-2.0},{"x":0.10,"y":-2.55},{"x":0.11,"y":-2.4},{"x":0.12,"y":-2.96},{"x":0.20,"y":-3.13},{"x":0.24,"y":-2.36},{"x":0.26,"y":-3.0},{"x":0.15,"y":-1.58},{"x":0.17,"y":-1.8},{"x":0.42,"y":-1.55},{"x":0.55,"y":-3.58},{"x":0.68,"y":-1.58},{"x":0.68,"y":-3.45},{"x":0.87,"y":-3.58},{"x":0.99,"y":-0.98},{"x":1.00,"y":-1.16},{"x":1.04,"y":0.5},{"x":0.84,"y":0.87},{"x":0.73,"y":2.0},{"x":0.60,"y":0.6},{"x":0.75,"y":-0.1},{"x":0.95,"y":0.3},{"x":0.70,"y":-0.6},{"x":0.80,"y":0.2},
{"x":1.50,"y":3.2},{"x":1.73,"y":3.2},{"x":1.82,"y":3.2},{"x":1.56,"y":2.38},{"x":1.20,"y":2.18},{"x":1.38,"y":2.2},{"x":1.46,"y":2.2},
{"x":1.28,"y":1.94},{"x":1.32,"y":1.94},{"x":1.36,"y":1.94},{"x":1.40,"y":1.94},{"x":1.44,"y":1.94},{"x":1.48,"y":1.94},{"x":1.52,"y":1.94},
{"x":1.64,"y":2.07},{"x":1.70,"y":2.07},{"x":1.76,"y":2.07},{"x":1.82,"y":2.07},
{"x":1.30,"y":1.7},{"x":1.33,"y":1.5},{"x":1.36,"y":1.3},{"x":1.38,"y":1.6},{"x":1.41,"y":1.2},{"x":1.44,"y":1.45},{"x":1.47,"y":1.0},{"x":1.50,"y":1.7},{"x":1.54,"y":1.3},{"x":1.59,"y":1.55},{"x":1.65,"y":1.1},{"x":1.71,"y":1.4},{"x":1.78,"y":1.2},{"x":1.83,"y":1.5},{"x":1.35,"y":1.05},{"x":1.62,"y":0.9},{"x":1.75,"y":0.95},
{"x":1.29,"y":0.6},{"x":1.32,"y":0.3},{"x":1.35,"y":0.7},{"x":1.38,"y":0.15},{"x":1.41,"y":0.5},{"x":1.44,"y":0.3},{"x":1.47,"y":0.75},{"x":1.50,"y":0.1},{"x":1.54,"y":0.55},{"x":1.58,"y":0.25},{"x":1.62,"y":0.65},{"x":1.67,"y":0.2},{"x":1.72,"y":0.5},{"x":1.77,"y":0.1},{"x":1.82,"y":0.6},{"x":1.31,"y":0.0},{"x":1.43,"y":0.05},{"x":1.56,"y":0.0},{"x":1.70,"y":0.05},{"x":1.80,"y":0.3},
{"x":1.29,"y":-0.15},{"x":1.32,"y":-0.5},{"x":1.35,"y":-0.2},{"x":1.38,"y":-0.45},{"x":1.41,"y":-0.1},{"x":1.44,"y":-0.5},{"x":1.47,"y":-0.2},{"x":1.50,"y":-0.45},{"x":1.54,"y":-0.15},{"x":1.58,"y":-0.5},{"x":1.63,"y":-0.2},{"x":1.68,"y":-0.45},{"x":1.73,"y":-0.15},{"x":1.79,"y":-0.5},{"x":1.84,"y":-0.2},
{"x":1.28,"y":-0.33},{"x":1.33,"y":-0.33},{"x":1.38,"y":-0.33},{"x":1.43,"y":-0.33},{"x":1.48,"y":-0.33},{"x":1.53,"y":-0.33},{"x":1.58,"y":-0.33},{"x":1.64,"y":-0.33},{"x":1.70,"y":-0.33},{"x":1.76,"y":-0.33},{"x":1.83,"y":-0.33},
{"x":1.27,"y":-0.62},{"x":1.31,"y":-0.62},{"x":1.35,"y":-0.62},{"x":1.40,"y":-0.62},{"x":1.45,"y":-0.62},{"x":1.50,"y":-0.62},{"x":1.56,"y":-0.62},{"x":1.63,"y":-0.62},{"x":1.72,"y":-0.62},{"x":1.80,"y":-0.62},
{"x":1.38,"y":-0.95},{"x":1.36,"y":-0.9},{"x":1.39,"y":-1.3},{"x":1.35,"y":-2.1},{"x":1.37,"y":-2.15},{"x":1.37,"y":-2.7},{"x":1.43,"y":-2.83},{"x":1.46,"y":-2.6},{"x":1.37,"y":-3.38},{"x":1.38,"y":-3.5},{"x":1.37,"y":-3.79},{"x":1.44,"y":-3.45},{"x":1.55,"y":-1.9},{"x":1.78,"y":-1.55},{"x":1.62,"y":-0.9},{"x":1.70,"y":-1.0},{"x":1.52,"y":-1.05},
{"x":1.15,"y":0.2},{"x":1.20,"y":-0.3},{"x":1.22,"y":0.4},{"x":1.25,"y":-0.5},{"x":1.12,"y":-0.33},{"x":1.24,"y":1.3},
{"x":-0.31,"y":0.42},{"x":-0.27,"y":-0.05},{"x":-0.23,"y":0.62},{"x":-0.19,"y":-0.25},{"x":-0.15,"y":0.45},{"x":-0.11,"y":-0.52},{"x":-0.07,"y":0.32},{"x":-0.03,"y":-0.12},{"x":0.01,"y":0.58},{"x":0.05,"y":-0.45},{"x":0.09,"y":0.05},{"x":0.13,"y":0.72},{"x":0.17,"y":-0.1},{"x":0.21,"y":0.3},{"x":0.25,"y":-0.52},{"x":0.29,"y":0.62},{"x":0.33,"y":-0.05},{"x":0.38,"y":0.45},{"x":0.44,"y":-0.2},{"x":0.50,"y":0.25},
{"x":-0.29,"y":-0.48},{"x":-0.25,"y":0.22},{"x":-0.21,"y":-0.72},{"x":-0.17,"y":0.12},{"x":-0.13,"y":-0.38},{"x":-0.09,"y":0.75},{"x":-0.05,"y":-0.7},{"x":-0.01,"y":0.25},{"x":0.03,"y":-0.18},{"x":0.07,"y":0.48},{"x":0.11,"y":-0.72},{"x":0.15,"y":0.35},{"x":0.19,"y":-0.48},{"x":0.23,"y":0.1},{"x":0.27,"y":-0.72},{"x":0.31,"y":0.25},{"x":0.35,"y":-0.48},{"x":0.40,"y":0.1},{"x":0.46,"y":-0.62},{"x":0.54,"y":0.55},
{"x":-0.27,"y":1.5},{"x":-0.11,"y":1.15},{"x":0.0,"y":1.6},{"x":0.12,"y":1.72},{"x":0.22,"y":1.15},{"x":0.36,"y":1.7},{"x":-0.32,"y":1.25},{"x":0.05,"y":0.9},{"x":0.28,"y":0.85},{"x":-0.16,"y":0.95},
{"x":-2.56,"y":0.28},{"x":-2.52,"y":-0.05},{"x":-2.48,"y":0.68},{"x":-2.44,"y":0.15},{"x":-2.40,"y":-0.2},{"x":-2.36,"y":0.58},{"x":-2.32,"y":0.12},{"x":-2.28,"y":-0.48},{"x":-2.24,"y":0.45},{"x":-2.20,"y":0.05},{"x":-2.16,"y":-0.25},{"x":-2.12,"y":0.62},{"x":-2.08,"y":0.15},{"x":-2.50,"y":-0.28},{"x":-2.38,"y":0.35},{"x":-2.30,"y":0.45},{"x":-2.22,"y":0.25},{"x":-2.46,"y":0.42},{"x":-2.34,"y":-0.05},{"x":-2.26,"y":0.58},
{"x":1.30,"y":0.35},{"x":1.34,"y":-0.05},{"x":1.38,"y":0.55},{"x":1.42,"y":-0.48},{"x":1.46,"y":0.4},{"x":1.50,"y":-0.2},{"x":1.54,"y":0.72},{"x":1.58,"y":0.05},{"x":1.62,"y":-0.48},{"x":1.66,"y":0.42},{"x":1.70,"y":-0.05},{"x":1.74,"y":0.65},{"x":1.78,"y":-0.25},{"x":1.82,"y":0.15},{"x":1.32,"y":1.2},{"x":1.44,"y":1.65},{"x":1.56,"y":1.05},{"x":1.68,"y":1.6},{"x":1.80,"y":1.0},{"x":1.40,"y":0.9},{"x":1.52,"y":1.45},{"x":1.64,"y":1.25},{"x":1.36,"y":-0.45},{"x":1.76,"y":0.35},
{"x":-1.05,"y":0.2},{"x":-0.96,"y":-0.5},{"x":-0.88,"y":0.05},{"x":-0.80,"y":-0.45},{"x":-0.74,"y":0.15},{"x":-0.66,"y":-0.05},{"x":-0.60,"y":0.3},{"x":-1.10,"y":-0.2}
    ],
    "inv": [
{"x":-2.41,"y":3.03},{"x":-2.23,"y":3.03},{"x":-2.41,"y":2.48},{"x":-2.44,"y":2.27},{"x":-2.48,"y":2.06},{"x":-2.29,"y":2.09},{"x":-2.26,"y":1.54},{"x":-2.14,"y":1.85},{"x":-2.60,"y":1.57},{"x":-2.54,"y":1.57},{"x":-2.57,"y":1.33},{"x":-2.12,"y":1.3},{"x":-2.10,"y":1.26},{"x":-1.98,"y":0.74},{"x":-2.35,"y":1.45},{"x":-2.20,"y":1.15},{"x":-2.45,"y":1.2},
{"x":-2.58,"y":1.0},{"x":-2.55,"y":0.7},{"x":-2.52,"y":0.95},{"x":-2.50,"y":0.4},{"x":-2.47,"y":0.8},{"x":-2.45,"y":0.2},{"x":-2.43,"y":0.6},{"x":-2.41,"y":1.05},{"x":-2.39,"y":0.3},{"x":-2.37,"y":0.75},{"x":-2.35,"y":0.05},{"x":-2.33,"y":0.5},{"x":-2.31,"y":0.9},{"x":-2.29,"y":0.25},{"x":-2.27,"y":0.65},{"x":-2.25,"y":1.0},{"x":-2.23,"y":0.15},{"x":-2.21,"y":0.55},{"x":-2.19,"y":0.85},{"x":-2.17,"y":0.35},{"x":-2.15,"y":0.6},{"x":-2.12,"y":0.1},{"x":-2.09,"y":0.45},{"x":-2.05,"y":0.2},{"x":-2.02,"y":0.6},
{"x":-2.59,"y":-0.1},{"x":-2.56,"y":0.1},{"x":-2.53,"y":-0.2},{"x":-2.49,"y":-0.05},{"x":-2.46,"y":-0.25},{"x":-2.42,"y":0.0},{"x":-2.38,"y":-0.2},{"x":-2.34,"y":-0.05},{"x":-2.30,"y":-0.25},{"x":-2.26,"y":-0.1},{"x":-2.22,"y":-0.2},{"x":-2.18,"y":0.0},{"x":-2.14,"y":-0.25},{"x":-2.10,"y":-0.1},{"x":-2.04,"y":-0.2},{"x":-1.98,"y":-0.05},
{"x":-2.60,"y":-0.38},{"x":-2.55,"y":-0.38},{"x":-2.50,"y":-0.38},{"x":-2.45,"y":-0.38},{"x":-2.40,"y":-0.38},{"x":-2.35,"y":-0.38},{"x":-2.30,"y":-0.38},{"x":-2.25,"y":-0.38},{"x":-2.20,"y":-0.38},{"x":-2.15,"y":-0.38},{"x":-2.10,"y":-0.38},{"x":-2.05,"y":-0.38},{"x":-2.00,"y":-0.38},{"x":-1.94,"y":-0.38},{"x":-1.87,"y":-0.45},{"x":-1.80,"y":-0.45},{"x":-1.74,"y":-0.3},
{"x":-2.57,"y":-0.55},{"x":-2.51,"y":-0.6},{"x":-2.44,"y":-0.55},{"x":-2.37,"y":-0.6},{"x":-2.29,"y":-0.55},{"x":-2.21,"y":-0.6},{"x":-2.13,"y":-0.55},
{"x":-2.59,"y":-0.82},{"x":-2.55,"y":-0.82},{"x":-2.51,"y":-0.82},{"x":-2.47,"y":-0.82},{"x":-2.43,"y":-0.82},{"x":-2.39,"y":-0.82},{"x":-2.35,"y":-0.82},{"x":-2.31,"y":-0.82},{"x":-2.27,"y":-0.82},{"x":-2.23,"y":-0.82},{"x":-2.18,"y":-0.82},{"x":-2.12,"y":-0.82},
{"x":-2.40,"y":-1.0},{"x":-2.30,"y":-1.1},{"x":-2.22,"y":-0.98},{"x":-2.11,"y":-1.27},{"x":-1.98,"y":-1.03},{"x":-2.35,"y":-1.15},
{"x":-2.58,"y":-1.41},{"x":-2.56,"y":-2.03},{"x":-2.47,"y":-2.2},{"x":-2.40,"y":-1.6},{"x":-2.48,"y":-2.7},{"x":-2.46,"y":-3.0},{"x":-2.45,"y":-3.2},{"x":-2.41,"y":-3.2},{"x":-2.48,"y":-3.79},{"x":-2.24,"y":-2.42},{"x":-2.25,"y":-3.0},{"x":-2.20,"y":-1.38},
{"x":-1.08,"y":0.94},{"x":-1.00,"y":1.09},{"x":-0.84,"y":1.09},{"x":-0.73,"y":1.2},{"x":-0.64,"y":1.13},{"x":-0.92,"y":0.66},{"x":-0.88,"y":0.64},{"x":-0.80,"y":0.5},{"x":-0.71,"y":0.5},{"x":-0.60,"y":0.5},{"x":-1.04,"y":0.37},{"x":-0.93,"y":0.35},
{"x":-1.10,"y":0.2},{"x":-1.06,"y":-0.1},{"x":-1.02,"y":0.1},{"x":-0.98,"y":-0.25},{"x":-0.95,"y":0.15},{"x":-0.91,"y":-0.05},{"x":-0.87,"y":0.2},{"x":-0.83,"y":-0.2},{"x":-0.79,"y":0.05},{"x":-0.75,"y":-0.15},{"x":-0.70,"y":0.1},{"x":-0.65,"y":-0.2},{"x":-0.60,"y":0.0},{"x":-0.56,"y":-0.1},
{"x":-1.12,"y":-0.38},{"x":-1.06,"y":-0.38},{"x":-1.00,"y":-0.38},{"x":-0.94,"y":-0.38},{"x":-0.88,"y":-0.38},{"x":-0.82,"y":-0.38},{"x":-0.76,"y":-0.38},{"x":-0.70,"y":-0.38},{"x":-0.63,"y":-0.38},{"x":-0.56,"y":-0.38},
{"x":-1.03,"y":-0.6},{"x":-0.95,"y":-0.55},{"x":-0.86,"y":-0.6},{"x":-0.77,"y":-0.55},{"x":-0.68,"y":-0.6},
{"x":-1.05,"y":-0.82},{"x":-1.00,"y":-0.82},{"x":-0.95,"y":-0.82},{"x":-0.90,"y":-0.82},{"x":-0.84,"y":-0.82},{"x":-0.78,"y":-0.82},
{"x":-1.04,"y":-1.27},{"x":-0.97,"y":-2.42},{"x":-0.92,"y":-2.15},{"x":-0.96,"y":-2.81},{"x":-0.83,"y":-3.2},{"x":-0.77,"y":-3.0},{"x":-0.90,"y":-1.0},{"x":-0.75,"y":-1.05},
{"x":-0.48,"y":1.57},{"x":-0.47,"y":0.9},{"x":-0.52,"y":-0.38},{"x":-0.50,"y":0.3},{"x":-0.45,"y":-0.1},{"x":-0.42,"y":0.6},{"x":-0.39,"y":-2.9},{"x":-0.37,"y":-2.65},{"x":-0.30,"y":-2.32},{"x":-0.44,"y":-0.7},
{"x":0.48,"y":3.03},{"x":0.36,"y":2.65},{"x":-0.20,"y":2.48},{"x":-0.06,"y":2.48},{"x":0.30,"y":2.43},{"x":0.53,"y":2.48},{"x":0.58,"y":2.48},{"x":0.0,"y":2.32},{"x":-0.04,"y":2.13},{"x":0.04,"y":2.13},{"x":0.12,"y":2.13},{"x":0.20,"y":1.97},{"x":0.30,"y":1.92},{"x":0.39,"y":1.92},{"x":0.46,"y":1.97},{"x":0.58,"y":1.85},{"x":0.66,"y":1.85},{"x":0.71,"y":2.27},{"x":0.22,"y":2.2},
{"x":-0.36,"y":1.55},{"x":-0.31,"y":1.55},{"x":-0.27,"y":1.55},{"x":-0.22,"y":1.55},{"x":-0.18,"y":1.55},{"x":-0.13,"y":1.55},{"x":-0.09,"y":1.55},{"x":-0.04,"y":1.55},{"x":0.0,"y":1.55},{"x":0.04,"y":1.55},{"x":0.08,"y":1.55},{"x":0.16,"y":1.55},{"x":0.25,"y":1.5},
{"x":-0.35,"y":1.3},{"x":-0.30,"y":1.15},{"x":-0.26,"y":1.4},{"x":-0.21,"y":1.0},{"x":-0.17,"y":1.25},{"x":-0.12,"y":1.4},{"x":-0.07,"y":1.1},{"x":-0.02,"y":1.3},{"x":0.03,"y":1.0},{"x":0.08,"y":1.2},{"x":0.13,"y":1.4},{"x":0.18,"y":1.05},{"x":0.23,"y":1.3},{"x":0.29,"y":1.1},{"x":0.35,"y":1.35},{"x":0.42,"y":1.15},{"x":0.50,"y":1.3},{"x":0.58,"y":1.0},{"x":-0.33,"y":1.0},{"x":0.10,"y":1.3},
{"x":-0.37,"y":0.8},{"x":-0.33,"y":0.5},{"x":-0.29,"y":0.85},{"x":-0.25,"y":0.3},{"x":-0.21,"y":0.65},{"x":-0.17,"y":0.1},{"x":-0.13,"y":0.5},{"x":-0.09,"y":0.8},{"x":-0.05,"y":0.25},{"x":-0.01,"y":0.6},{"x":0.03,"y":0.9},{"x":0.07,"y":0.35},{"x":0.11,"y":0.7},{"x":0.15,"y":0.15},{"x":0.19,"y":0.55},{"x":0.23,"y":0.85},{"x":0.27,"y":0.3},{"x":0.32,"y":0.65},{"x":0.37,"y":0.2},{"x":0.42,"y":0.5},{"x":0.48,"y":0.8},{"x":0.55,"y":0.3},{"x":0.62,"y":0.6},
{"x":-0.35,"y":0.1},{"x":-0.27,"y":0.0},{"x":-0.19,"y":0.2},{"x":-0.11,"y":0.05},{"x":-0.03,"y":0.15},{"x":0.05,"y":0.0},{"x":0.13,"y":0.2},{"x":0.21,"y":0.05},{"x":0.29,"y":0.1},{"x":0.37,"y":0.0},{"x":0.46,"y":0.15},{"x":0.56,"y":0.05},
{"x":-0.38,"y":-0.15},{"x":-0.34,"y":-0.55},{"x":-0.30,"y":-0.2},{"x":-0.26,"y":-0.6},{"x":-0.22,"y":-0.1},{"x":-0.18,"y":-0.55},{"x":-0.14,"y":-0.25},{"x":-0.10,"y":-0.6},{"x":-0.06,"y":-0.15},{"x":-0.02,"y":-0.55},{"x":0.02,"y":-0.2},{"x":0.06,"y":-0.6},{"x":0.10,"y":-0.1},{"x":0.14,"y":-0.55},{"x":0.18,"y":-0.25},{"x":0.22,"y":-0.6},{"x":0.26,"y":-0.15},{"x":0.31,"y":-0.55},{"x":0.36,"y":-0.2},{"x":0.41,"y":-0.6},{"x":0.47,"y":-0.1},{"x":0.53,"y":-0.55},{"x":0.60,"y":-0.2},
{"x":-0.39,"y":-0.38},{"x":-0.34,"y":-0.38},{"x":-0.29,"y":-0.38},{"x":-0.24,"y":-0.38},{"x":-0.19,"y":-0.38},{"x":-0.14,"y":-0.38},{"x":-0.09,"y":-0.38},{"x":-0.04,"y":-0.38},{"x":0.01,"y":-0.38},{"x":0.06,"y":-0.38},{"x":0.11,"y":-0.38},{"x":0.16,"y":-0.38},{"x":0.21,"y":-0.38},{"x":0.26,"y":-0.38},{"x":0.31,"y":-0.38},{"x":0.37,"y":-0.38},{"x":0.43,"y":-0.38},{"x":0.50,"y":-0.38},{"x":0.58,"y":-0.38},{"x":0.65,"y":-0.38},
{"x":-0.36,"y":-0.82},{"x":-0.31,"y":-0.82},{"x":-0.26,"y":-0.82},{"x":-0.21,"y":-0.82},{"x":-0.16,"y":-0.82},{"x":-0.11,"y":-0.82},{"x":-0.06,"y":-0.82},{"x":-0.01,"y":-0.82},{"x":0.04,"y":-0.82},{"x":0.09,"y":-0.82},{"x":0.14,"y":-0.82},{"x":0.19,"y":-0.82},{"x":0.24,"y":-0.82},{"x":0.30,"y":-0.82},{"x":0.36,"y":-0.82},
{"x":-0.32,"y":-1.0},{"x":-0.22,"y":-1.05},{"x":-0.12,"y":-0.95},{"x":0.0,"y":-1.0},{"x":0.10,"y":-1.05},{"x":0.22,"y":-0.98},{"x":0.33,"y":-1.0},{"x":0.45,"y":-0.95},
{"x":-0.10,"y":-1.22},{"x":-0.02,"y":-1.35},{"x":-0.20,"y":-1.63},{"x":-0.08,"y":-1.6},{"x":-0.26,"y":-1.95},{"x":0.08,"y":-1.63},{"x":0.10,"y":-1.84},{"x":0.23,"y":-1.84},{"x":0.27,"y":-2.16},{"x":0.48,"y":-1.95},{"x":0.41,"y":-2.16},{"x":0.10,"y":-2.45},{"x":0.11,"y":-2.84},{"x":0.06,"y":-3.22},{"x":0.16,"y":-3.63},{"x":0.20,"y":-3.79},{"x":0.25,"y":-3.79},{"x":-0.19,"y":-3.0},{"x":-0.17,"y":-3.2},{"x":-0.18,"y":-3.4},{"x":-0.07,"y":-3.4},{"x":-0.26,"y":-3.6},{"x":-0.15,"y":-3.79},{"x":-0.07,"y":-3.79},{"x":-0.22,"y":-2.85},{"x":-0.13,"y":-2.6},{"x":0.05,"y":-2.3},
{"x":0.60,"y":-0.83},{"x":0.65,"y":-1.08},{"x":0.76,"y":-1.6},{"x":0.78,"y":0.38},{"x":0.85,"y":-1.95},{"x":0.91,"y":-2.2},{"x":0.94,"y":-0.3},{"x":1.05,"y":3.03},{"x":1.00,"y":-0.38},{"x":1.08,"y":0.34},{"x":1.00,"y":-1.38},{"x":1.07,"y":-1.02},{"x":0.98,"y":-0.13},{"x":0.70,"y":0.3},{"x":0.72,"y":-0.38},{"x":0.80,"y":0.8},{"x":0.88,"y":-0.6},{"x":0.66,"y":1.3},{"x":0.75,"y":1.55},{"x":0.95,"y":0.9},{"x":1.10,"y":-0.38},
{"x":1.25,"y":1.85},{"x":1.27,"y":1.13},{"x":1.48,"y":2.48},{"x":1.57,"y":2.27},{"x":1.63,"y":2.27},{"x":1.70,"y":2.1},{"x":1.35,"y":2.0},{"x":1.42,"y":1.95},{"x":1.55,"y":1.97},
{"x":1.32,"y":1.5},{"x":1.36,"y":1.3},{"x":1.40,"y":1.55},{"x":1.44,"y":1.1},{"x":1.48,"y":1.4},{"x":1.52,"y":1.2},{"x":1.56,"y":1.55},{"x":1.60,"y":1.0},{"x":1.64,"y":1.35},{"x":1.68,"y":1.5},{"x":1.71,"y":1.1},{"x":1.34,"y":0.9},{"x":1.46,"y":0.8},{"x":1.58,"y":0.7},{"x":1.69,"y":0.85},
{"x":1.31,"y":0.5},{"x":1.34,"y":0.2},{"x":1.37,"y":0.65},{"x":1.40,"y":0.1},{"x":1.43,"y":0.45},{"x":1.46,"y":0.25},{"x":1.49,"y":0.6},{"x":1.52,"y":0.05},{"x":1.55,"y":0.4},{"x":1.59,"y":0.15},{"x":1.63,"y":0.55},{"x":1.67,"y":0.3},{"x":1.70,"y":0.6},{"x":1.33,"y":0.0},{"x":1.47,"y":-0.05},{"x":1.61,"y":0.0},
{"x":1.30,"y":-0.2},{"x":1.33,"y":-0.55},{"x":1.36,"y":-0.15},{"x":1.39,"y":-0.6},{"x":1.42,"y":-0.25},{"x":1.45,"y":-0.55},{"x":1.48,"y":-0.15},{"x":1.51,"y":-0.6},{"x":1.55,"y":-0.2},{"x":1.59,"y":-0.55},{"x":1.63,"y":-0.15},{"x":1.67,"y":-0.6},{"x":1.71,"y":-0.25},
{"x":1.29,"y":-0.38},{"x":1.34,"y":-0.38},{"x":1.39,"y":-0.38},{"x":1.44,"y":-0.38},{"x":1.49,"y":-0.38},{"x":1.54,"y":-0.38},{"x":1.60,"y":-0.38},{"x":1.66,"y":-0.38},{"x":1.71,"y":-0.38},
{"x":1.30,"y":-0.82},{"x":1.35,"y":-0.82},{"x":1.40,"y":-0.82},{"x":1.45,"y":-0.82},{"x":1.50,"y":-0.82},{"x":1.56,"y":-0.82},{"x":1.62,"y":-0.82},{"x":1.68,"y":-0.82},
{"x":1.36,"y":-1.0},{"x":1.48,"y":-1.05},{"x":1.60,"y":-0.98},{"x":1.42,"y":-1.3},{"x":1.39,"y":-1.96},{"x":1.50,"y":-1.96},{"x":1.41,"y":-2.6},{"x":1.46,"y":-2.78},{"x":1.45,"y":-2.5},{"x":1.52,"y":-2.88},{"x":1.48,"y":-2.7},{"x":1.41,"y":-3.79},{"x":1.46,"y":-3.79},{"x":1.54,"y":-3.6},{"x":1.67,"y":-2.68},{"x":1.47,"y":-1.4},{"x":1.58,"y":-1.25},
{"x":1.12,"y":0.2},{"x":1.18,"y":-0.38},{"x":1.22,"y":0.6},{"x":1.25,"y":-0.5},{"x":1.20,"y":-0.85},
{"x":-0.31,"y":0.45},{"x":-0.27,"y":-0.25},{"x":-0.23,"y":0.95},{"x":-0.19,"y":0.35},{"x":-0.15,"y":-0.45},{"x":-0.11,"y":0.7},{"x":-0.07,"y":-0.05},{"x":-0.03,"y":1.05},{"x":0.01,"y":0.3},{"x":0.05,"y":-0.5},{"x":0.09,"y":0.55},{"x":0.13,"y":-0.15},{"x":0.17,"y":0.9},{"x":0.21,"y":0.4},{"x":0.25,"y":-0.5},{"x":0.29,"y":0.75},{"x":0.33,"y":0.1},{"x":0.38,"y":1.05},{"x":0.44,"y":-0.2},{"x":0.50,"y":0.6},
{"x":-0.29,"y":-0.65},{"x":-0.25,"y":0.6},{"x":-0.21,"y":-0.05},{"x":-0.17,"y":1.15},{"x":-0.13,"y":-0.7},{"x":-0.09,"y":0.25},{"x":-0.05,"y":-0.62},{"x":-0.01,"y":0.85},{"x":0.03,"y":-0.05},{"x":0.07,"y":0.65},{"x":0.11,"y":-0.7},{"x":0.15,"y":0.5},{"x":0.19,"y":-0.1},{"x":0.23,"y":1.05},{"x":0.27,"y":-0.65},{"x":0.31,"y":0.35},{"x":0.35,"y":-0.7},{"x":0.40,"y":0.75},{"x":0.46,"y":-0.45},{"x":0.54,"y":0.9},
{"x":-0.28,"y":1.7},{"x":-0.14,"y":1.8},{"x":0.02,"y":1.75},{"x":0.14,"y":1.85},{"x":0.28,"y":1.7},{"x":0.42,"y":1.75},{"x":-0.20,"y":1.2},{"x":0.06,"y":1.15},{"x":0.32,"y":1.2},{"x":0.50,"y":1.55},
{"x":-2.58,"y":0.55},{"x":-2.54,"y":0.2},{"x":-2.50,"y":0.75},{"x":-2.46,"y":-0.55},{"x":-2.42,"y":0.4},{"x":-2.38,"y":0.95},{"x":-2.34,"y":0.25},{"x":-2.30,"y":0.55},{"x":-2.26,"y":-0.55},{"x":-2.22,"y":0.85},{"x":-2.18,"y":0.3},{"x":-2.14,"y":0.75},{"x":-2.10,"y":-0.65},{"x":-2.56,"y":-0.65},{"x":-2.44,"y":0.7},{"x":-2.36,"y":-0.65},{"x":-2.28,"y":0.95},{"x":-2.20,"y":0.45},{"x":-2.48,"y":1.1},{"x":-2.32,"y":1.2},
{"x":1.30,"y":0.3},{"x":1.33,"y":-0.65},{"x":1.36,"y":0.85},{"x":1.39,"y":0.4},{"x":1.42,"y":-0.6},{"x":1.45,"y":0.95},{"x":1.48,"y":0.1},{"x":1.51,"y":1.3},{"x":1.54,"y":-0.6},{"x":1.57,"y":0.75},{"x":1.60,"y":0.35},{"x":1.63,"y":-0.65},{"x":1.66,"y":1.1},{"x":1.69,"y":0.15},{"x":1.31,"y":1.25},{"x":1.38,"y":1.6},{"x":1.44,"y":1.45},{"x":1.50,"y":1.65},{"x":1.62,"y":1.6},{"x":1.70,"y":1.3},{"x":1.34,"y":-1.0},{"x":1.52,"y":-1.0},{"x":1.66,"y":-1.0},{"x":1.40,"y":-0.15},
{"x":-1.08,"y":-0.55},{"x":-0.99,"y":0.5},{"x":-0.90,"y":-0.65},{"x":-0.81,"y":0.3},{"x":-0.72,"y":-0.6},{"x":-0.64,"y":0.35},{"x":-0.58,"y":-0.55},{"x":-1.02,"y":0.6}
    ]
  },
  "vconcat": [
    {
      "width": 1180,
      "height": 27,
      "data": {"name": "heads"},
      "layer": [
        {
          "transform": [{"filter": "datum.panel == 'Organization Subscale'"}],
          "mark": {"type": "rule", "color": "#000000", "strokeWidth": 2},
          "encoding": {
            "x": {"field": "panel", "type": "nominal", "bandPosition": -0.139, "axis": null, "scale": {"type": "band", "domain": ["Organization Subscale", "Responsivity Subscale", "Involvement Subscale"], "range": [0, 1251], "paddingInner": 0, "paddingOuter": 0}},
            "x2": {"value": "width"},
            "y": {"datum": 1, "type": "quantitative", "axis": null, "scale": {"domain": [0, 1], "nice": false, "zero": false}}
          }
        },
        {
          "transform": [{"filter": "datum.panel == 'Organization Subscale'"}],
          "mark": {"type": "rule", "color": "#000000", "strokeWidth": 2},
          "encoding": {
            "x": {"field": "panel", "type": "nominal", "bandPosition": -0.1631, "axis": null, "scale": {"type": "band", "domain": ["Organization Subscale", "Responsivity Subscale", "Involvement Subscale"], "range": [0, 1251], "paddingInner": 0, "paddingOuter": 0}},
            "x2": {"value": "width"},
            "y": {"datum": 0, "type": "quantitative", "axis": null, "scale": {"domain": [0, 1], "nice": false, "zero": false}}
          }
        },
        {
          "mark": {"type": "text", "fontSize": 20, "fontWeight": "bold", "color": "#000000", "align": "center", "baseline": "middle", "dx": -56.5},
          "encoding": {
            "x": {"field": "panel", "type": "nominal", "axis": null, "scale": {"type": "band", "domain": ["Organization Subscale", "Responsivity Subscale", "Involvement Subscale"], "range": [0, 1251], "paddingInner": 0, "paddingOuter": 0}},
            "text": {"field": "panel"}
          }
        }
      ]
    },
    {
      "width": 1180,
      "height": 115,
      "data": {"name": "stats"},
      "layer": [
        {
          "transform": [{"filter": "datum.line == 0"}],
          "mark": {"type": "text", "fontSize": 20.5, "fontWeight": "bold", "fontStyle": "italic", "color": "#000000", "align": "left", "baseline": "alphabetic", "dx": -44, "dy": -2.5},
          "encoding": {
            "x": {"field": "panel", "type": "nominal", "bandPosition": 0, "axis": null, "scale": {"type": "band", "domain": ["Organization Subscale", "Responsivity Subscale", "Involvement Subscale"], "range": [0, 1251], "paddingInner": 0, "paddingOuter": 0}},
            "y": {"field": "line", "type": "quantitative", "axis": null, "scale": {"domain": [-1.0816, 3.612], "reverse": true, "nice": false, "zero": false}},
            "text": {"field": "txt"}
          }
        },
        {
          "transform": [{"filter": "datum.line > 0"}],
          "mark": {"type": "text", "fontSize": 20, "color": "#000000", "align": "left", "baseline": "alphabetic", "dx": -44},
          "encoding": {
            "x": {"field": "panel", "type": "nominal", "bandPosition": 0, "axis": null, "scale": {"type": "band", "domain": ["Organization Subscale", "Responsivity Subscale", "Involvement Subscale"], "range": [0, 1251], "paddingInner": 0, "paddingOuter": 0}},
            "y": {"field": "line", "type": "quantitative", "axis": null, "scale": {"domain": [-1.0816, 3.612], "reverse": true, "nice": false, "zero": false}},
            "text": {"field": "txt"}
          }
        }
      ]
    },
    {
      "hconcat": [
        {
          "width": 359,
          "height": 240,
          "view": {"fill": "#EBEBEB", "stroke": null},
          "layer": [
            {"data": {"name": "minorx"}, "mark": {"type": "rule", "color": "#FFFFFF", "strokeWidth": 0.55}, "encoding": {"x": {"field": "v", "type": "quantitative", "title": "Total Fidelity Score", "scale": {"domain": [-2.839, 1.843], "nice": false, "zero": false}}}},
            {"data": {"name": "minory"}, "mark": {"type": "rule", "color": "#FFFFFF", "strokeWidth": 0.55}, "encoding": {"y": {"field": "v", "type": "quantitative", "title": "Change in Organization", "scale": {"domain": [-3.786, 3.542], "nice": false, "zero": false}}}},
            {"data": {"name": "org"}, "mark": {"type": "circle", "color": "#000000", "size": 15, "opacity": 1, "clip": true},
             "encoding": {
               "x": {"field": "x", "type": "quantitative", "title": "Total Fidelity Score", "scale": {"domain": [-2.839, 1.843], "nice": false, "zero": false}, "axis": {"values": [-2, -1, 0, 1], "titleX": 209, "format": "d"}},
               "y": {"field": "y", "type": "quantitative", "title": "Change in Organization", "scale": {"domain": [-3.786, 3.542], "nice": false, "zero": false}, "axis": {"values": [-2, 0, 2], "format": "d"}}
             }},
            {"data": {"name": "orgfit"}, "mark": {"type": "line", "color": "#3366FF", "strokeWidth": 4.5, "clip": true},
             "encoding": {
               "x": {"field": "x", "type": "quantitative", "title": "Total Fidelity Score", "scale": {"domain": [-2.839, 1.843], "nice": false, "zero": false}},
               "y": {"field": "y", "type": "quantitative", "title": "Change in Organization", "scale": {"domain": [-3.786, 3.542], "nice": false, "zero": false}}
             }}
          ]
        },
        {
          "width": 361,
          "height": 240,
          "view": {"fill": "#EBEBEB", "stroke": null},
          "layer": [
            {"data": {"name": "minorx"}, "mark": {"type": "rule", "color": "#FFFFFF", "strokeWidth": 0.55}, "encoding": {"x": {"field": "v", "type": "quantitative", "title": "Total Fidelity Score", "scale": {"domain": [-2.855, 1.858], "nice": false, "zero": false}}}},
            {"data": {"name": "minory"}, "mark": {"type": "rule", "color": "#FFFFFF", "strokeWidth": 0.55}, "encoding": {"y": {"field": "v", "type": "quantitative", "title": "Change in Responsivity", "scale": {"domain": [-4.116, 3.584], "nice": false, "zero": false}}}},
            {"data": {"name": "resp"}, "mark": {"type": "circle", "color": "#000000", "size": 15, "opacity": 1, "clip": true},
             "encoding": {
               "x": {"field": "x", "type": "quantitative", "title": "Total Fidelity Score", "scale": {"domain": [-2.855, 1.858], "nice": false, "zero": false}, "axis": {"values": [-2, -1, 0, 1], "titleX": 210.5, "format": "d"}},
               "y": {"field": "y", "type": "quantitative", "title": "Change in Responsivity", "scale": {"domain": [-4.116, 3.584], "nice": false, "zero": false}, "axis": {"values": [-4, -2, 0, 2], "format": "d"}}
             }},
            {"data": {"name": "respfit"}, "mark": {"type": "line", "color": "#3366FF", "strokeWidth": 4.5, "clip": true},
             "encoding": {
               "x": {"field": "x", "type": "quantitative", "title": "Total Fidelity Score", "scale": {"domain": [-2.855, 1.858], "nice": false, "zero": false}},
               "y": {"field": "y", "type": "quantitative", "title": "Change in Responsivity", "scale": {"domain": [-4.116, 3.584], "nice": false, "zero": false}}
             }}
          ]
        },
        {
          "width": 348,
          "height": 240,
          "view": {"fill": "#EBEBEB", "stroke": null},
          "layer": [
            {"data": {"name": "minorx"}, "mark": {"type": "rule", "color": "#FFFFFF", "strokeWidth": 0.55}, "encoding": {"x": {"field": "v", "type": "quantitative", "title": "Total Fidelity Score", "scale": {"domain": [-2.848, 1.725], "nice": false, "zero": false}}}},
            {"data": {"name": "minory"}, "mark": {"type": "rule", "color": "#FFFFFF", "strokeWidth": 0.55}, "encoding": {"y": {"field": "v", "type": "quantitative", "title": "Change in Involvement", "scale": {"domain": [-4.115, 3.361], "nice": false, "zero": false}}}},
            {"data": {"name": "inv"}, "mark": {"type": "circle", "color": "#000000", "size": 15, "opacity": 1, "clip": true},
             "encoding": {
               "x": {"field": "x", "type": "quantitative", "title": "Total Fidelity Score", "scale": {"domain": [-2.848, 1.725], "nice": false, "zero": false}, "axis": {"values": [-2, -1, 0, 1], "titleX": 209, "format": "d"}},
               "y": {"field": "y", "type": "quantitative", "title": "Change in Involvement", "scale": {"domain": [-4.115, 3.361], "nice": false, "zero": false}, "axis": {"values": [-4, -2, 0, 2], "format": "d"}}
             }},
            {"data": {"name": "invfit"}, "mark": {"type": "line", "color": "#3366FF", "strokeWidth": 4.5, "clip": true},
             "encoding": {
               "x": {"field": "x", "type": "quantitative", "title": "Total Fidelity Score", "scale": {"domain": [-2.848, 1.725], "nice": false, "zero": false}},
               "y": {"field": "y", "type": "quantitative", "title": "Change in Involvement", "scale": {"domain": [-4.115, 3.361], "nice": false, "zero": false}}
             }}
          ]
        }
      ],
      "spacing": 56,
      "bounds": "flush"
    }
  ]
}
